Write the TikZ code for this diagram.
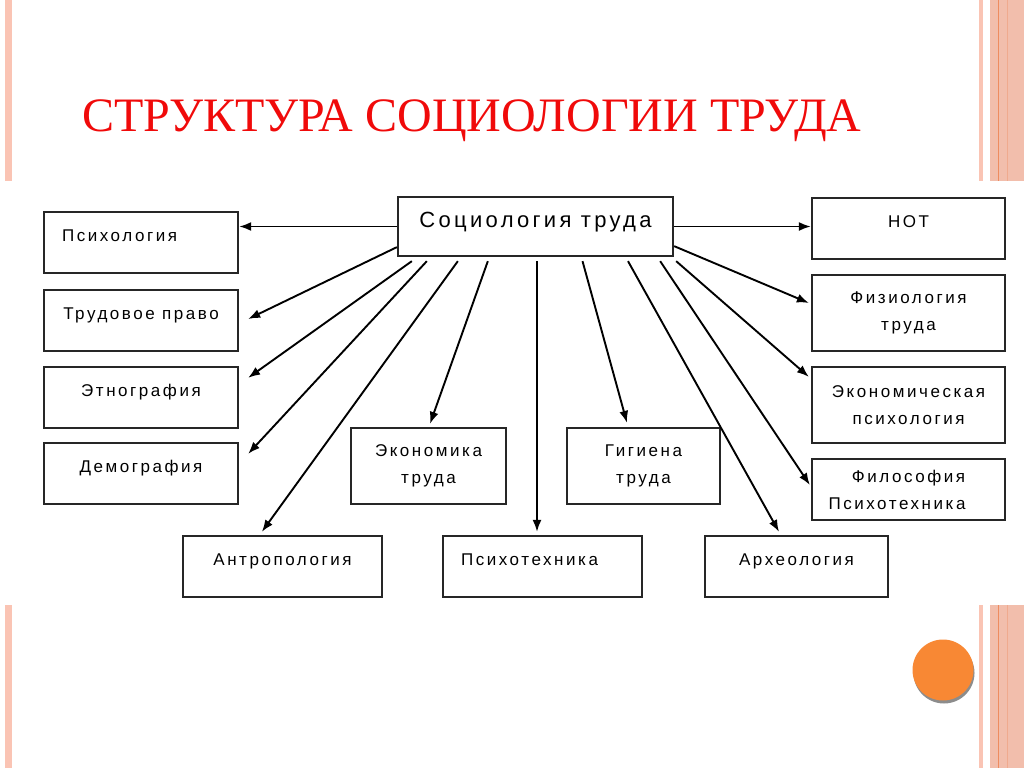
\documentclass[tikz,border=0pt]{standalone}
\usepackage{fontspec}
\setmainfont{Liberation Serif}
\newfontfamily\boxfont[LetterSpace=15]{Liberation Sans}
\usetikzlibrary{arrows.meta,calc}
\definecolor{titlered}{RGB}{240,10,10}
\definecolor{stripe}{RGB}{250,196,180}
\definecolor{band}{RGB}{242,190,172}
\definecolor{bandline}{RGB}{238,140,96}
\definecolor{dotorange}{RGB}{248,136,52}

\begin{document}
\begin{tikzpicture}[x=1pt,y=-1pt,
  box/.style={rectangle,draw=black!85,line width=2.3pt,inner sep=0pt,align=center,font=\boxfont\fontsize{17}{27}\selectfont},
  one/.style={text height=12pt,text depth=15pt},
  arr/.style={line width=1.9pt,-{Latex[length=12pt,width=9pt]}}]
  \useasboundingbox (0,0) rectangle (1024,768);
  % page decoration
  \fill[stripe] (5,0) rectangle (12,181); \fill[stripe] (5,605) rectangle (12,768);
  \fill[stripe] (979,0) rectangle (983,181); \fill[stripe] (979,605) rectangle (983,768);
  \fill[band] (990,0) rectangle (1024,181); \fill[band] (990,605) rectangle (1024,768);
  \fill[bandline] (997.5,0) rectangle (999,181); \fill[bandline] (997.5,605) rectangle (999,768);
  \fill[bandline!40!band] (1007,0) rectangle (1008,181); \fill[bandline!40!band] (1007,605) rectangle (1008,768);
  \fill[black!45] (944,673) circle (30.5);
  \fill[dotorange] (943,670) circle (30.5);
  \node[anchor=base west,inner sep=0pt,text=titlered,font=\fontsize{48}{52}\selectfont] (title) at (82,131) {СТРУКТУРА СОЦИОЛОГИИ ТРУДА};
  % boxes
  \node[box,minimum width=275pt,minimum height=59pt,font=\boxfont\fontsize{22}{26}\selectfont,text height=15pt,text depth=13pt](soc) at(535.5,226.5){Социология труда};
  \node[box,one,minimum width=194pt,minimum height=61pt,text width=158pt,align=left](psy) at(141,242.5){Психология};
  \node[box,one,minimum width=194pt,minimum height=61pt](trud) at(141,320.5){Трудовое право};
  \node[box,one,minimum width=194pt,minimum height=61pt](etno) at(141,397.5){Этнография};
  \node[box,one,minimum width=194pt,minimum height=61pt](dem) at(141,473.5){Демография};
  \node[box,one,minimum width=193pt,minimum height=61pt](not) at(908.5,228.5){НОТ};
  \node[box,minimum width=193pt,minimum height=76pt](fiz) at(908.5,313){Физиология\\труда};
  \node[box,minimum width=193pt,minimum height=76pt](ecps) at(908.5,405){Экономическая\\психология};
  \node[box,minimum width=193pt,minimum height=61pt](fil) at(908.5,489.5){Философия\\Психотехника\hspace*{23pt}};
  \node[box,minimum width=155pt,minimum height=76pt](econ) at(428.5,466){Экономика\\труда};
  \node[box,minimum width=153pt,minimum height=76pt](gig) at(643.5,466){Гигиена\\труда};
  \node[box,one,minimum width=199pt,minimum height=61pt](antr) at(282.5,566.5){Антропология};
  \node[box,one,minimum width=199pt,minimum height=61pt](psyt) at(542.5,566.5){Психотехника\hspace*{26pt}};
  \node[box,one,minimum width=183pt,minimum height=61pt](arch) at(796.5,566.5){Археология};
  % connectors
  \draw[arr](soc.west)--(soc.west -| psy.east);
  \draw[arr](soc.east)--(soc.east -| not.west);
  \draw[arr]($(soc.south west)+(0,-10)$)--($(trud.east)+(9,-1.5)$);
  \draw[arr]($(soc.south west)+(15,4)$)--($(etno.north east)+(9,12)$);
  \draw[arr]($(soc.south west)+(30,4)$)--($(dem.north east)+(9,12)$);
  \draw[arr]($(soc.south west)+(61,4)$)--($(antr.north west)+(80,-3)$);
  \draw[arr]($(soc.south west)+(91,4)$)--($(econ.north)+(1.5,-3)$);
  \draw[arr]($(soc.south)+(1.5,4)$)--($(psyt.north)+(-5.5,-3)$);
  \draw[arr]($(soc.south)+(47,4)$)--($(gig.north)+(-16.5,-4)$);
  \draw[arr]($(soc.south)+(92.5,4)$)--($(arch.north)+(-17.5,-3)$);
  \draw[arr]($(soc.south east)+(-14,4)$)--($(fil.west)+(-1,-4.5)$);
  \draw[arr]($(soc.south east)+(2,4)$)--($(ecps.north west)+(-2,11)$);
  \draw[arr]($(soc.south east)+(0,-11)$)--($(fiz.west)+(-2,-10)$);
\end{tikzpicture}
\end{document}
